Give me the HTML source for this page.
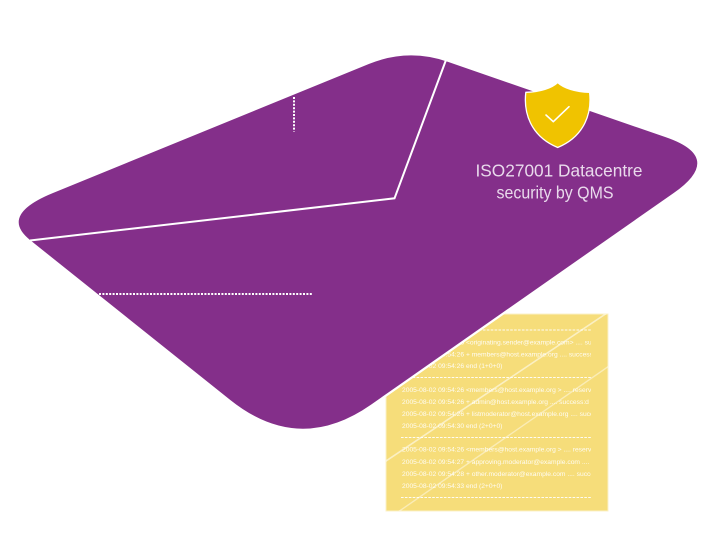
<!DOCTYPE html>
<html>
<head>
<meta charset="utf-8">
<style>
  html,body{margin:0;padding:0;background:#ffffff;}
  body{width:702px;height:554px;overflow:hidden;}
  svg{display:block;}
</style>
</head>
<body>
<svg width="702" height="554" viewBox="0 0 702 554" xmlns="http://www.w3.org/2000/svg">
  <defs>
    <clipPath id="noteclip">
      <rect x="386" y="314" width="205" height="197"/>
    </clipPath>
    <clipPath id="notebox">
      <rect x="386" y="314" width="222" height="197"/>
    </clipPath>
  </defs>

  <!-- yellow log note -->
  <rect x="386" y="314" width="222" height="197" fill="#f6dd7a" stroke="#fbf1c8" stroke-width="1"/>
  <g clip-path="url(#notebox)">
    <line x1="380" y1="465" x2="610" y2="311" stroke="#ffffff" stroke-opacity="0.55" stroke-width="1.6"/>
    <line x1="398" y1="512" x2="612" y2="364" stroke="#ffffff" stroke-opacity="0.45" stroke-width="1.4"/>
  </g>
  <g clip-path="url(#noteclip)" font-family="'Liberation Sans', sans-serif" font-size="6.7" fill="#ffffff" fill-opacity="0.9">
    <g stroke="#ffffff" stroke-width="1.1" stroke-dasharray="2.6 1.3" stroke-opacity="0.9">
      <line x1="401" y1="330" x2="591" y2="330"/>
      <line x1="401" y1="377.5" x2="591" y2="377.5"/>
      <line x1="401" y1="437.5" x2="591" y2="437.5"/>
      <line x1="401" y1="497.5" x2="591" y2="497.5"/>
    </g>
    <text x="402" y="344.4">2005-08-02 09:54:26 &lt;originating.sender@example.com&gt; .... success</text>
    <text x="402" y="356.4">2005-08-02 09:54:26 + members@host.example.org .... success</text>
    <text x="402" y="368.2">2005-08-02 09:54:26 end (1+0+0)</text>
    <text x="402" y="392.2">2005-08-02 09:54:26 &lt;members@host.example.org &gt; .... reserved</text>
    <text x="402" y="403.9">2005-08-02 09:54:26 + admin@host.example.org .... success:d</text>
    <text x="402" y="415.9">2005-08-02 09:54:26 + listmoderator@host.example.org .... success</text>
    <text x="402" y="427.9">2005-08-02 09:54:30 end (2+0+0)</text>
    <text x="402" y="451.7">2005-08-02 09:54:26 &lt;members@host.example.org &gt; .... reserved</text>
    <text x="402" y="463.9">2005-08-02 09:54:27 + approving.moderator@example.com .... success</text>
    <text x="402" y="476.2">2005-08-02 09:54:28 + other.moderator@example.com .... success</text>
    <text x="402" y="487.9">2005-08-02 09:54:33 end (2+0+0)</text>
  </g>

  <!-- envelope: white outline halo then purple fill -->
  <path d="M53,193 L369.1,63.9 Q408,48 447.7,61.7 L665.9,137.3 Q724.5,157.5 673.7,193 L371.1,404.6 Q299,455 230.3,400 L30,240 Q-1,215 53,193 Z"
        fill="#ffffff" stroke="#ffffff" stroke-width="4.5" stroke-linejoin="round"/>
  <path d="M53,193 L369.1,63.9 Q408,48 447.7,61.7 L665.9,137.3 Q724.5,157.5 673.7,193 L371.1,404.6 Q299,455 230.3,400 L30,240 Q-1,215 53,193 Z"
        fill="#842f8a"/>

  <!-- crease -->
  <polyline points="30,240.5 394.5,198.3 445.8,60.5" fill="none" stroke="#ffffff" stroke-width="2" stroke-linejoin="miter"/>

  <!-- dotted lines -->
  <line x1="294" y1="97" x2="294" y2="131.5" stroke="#ffffff" stroke-width="2" stroke-dasharray="2 1.4"/>
  <line x1="99" y1="294" x2="313" y2="294" stroke="#ffffff" stroke-width="2" stroke-dasharray="2 1.4"/>

  <!-- shield -->
  <path d="M557.7,82.5 C552,88 540,92 525.8,92.3 C523.5,112 530,136 557.7,147.5 C585.4,136 591.9,112 589.6,92.3 C575.4,92 563.4,88 557.7,82.5 Z"
        fill="#f0c300" stroke="#ffffff" stroke-width="1.3" stroke-linejoin="round"/>
  <polyline points="546,115 553.3,121.7 569,106.7" fill="none" stroke="#ffffff" stroke-width="1.6" stroke-linecap="round" stroke-linejoin="round"/>

  <!-- label -->
  <g font-family="'Liberation Sans', sans-serif" font-size="17.5" fill="#e9daec" text-anchor="start">
    <text x="475.5" y="176.3" textLength="167" lengthAdjust="spacingAndGlyphs">ISO27001 Datacentre</text>
    <text x="496.5" y="198.5" textLength="117" lengthAdjust="spacingAndGlyphs">security by QMS</text>
  </g>
</svg>
</body>
</html>
